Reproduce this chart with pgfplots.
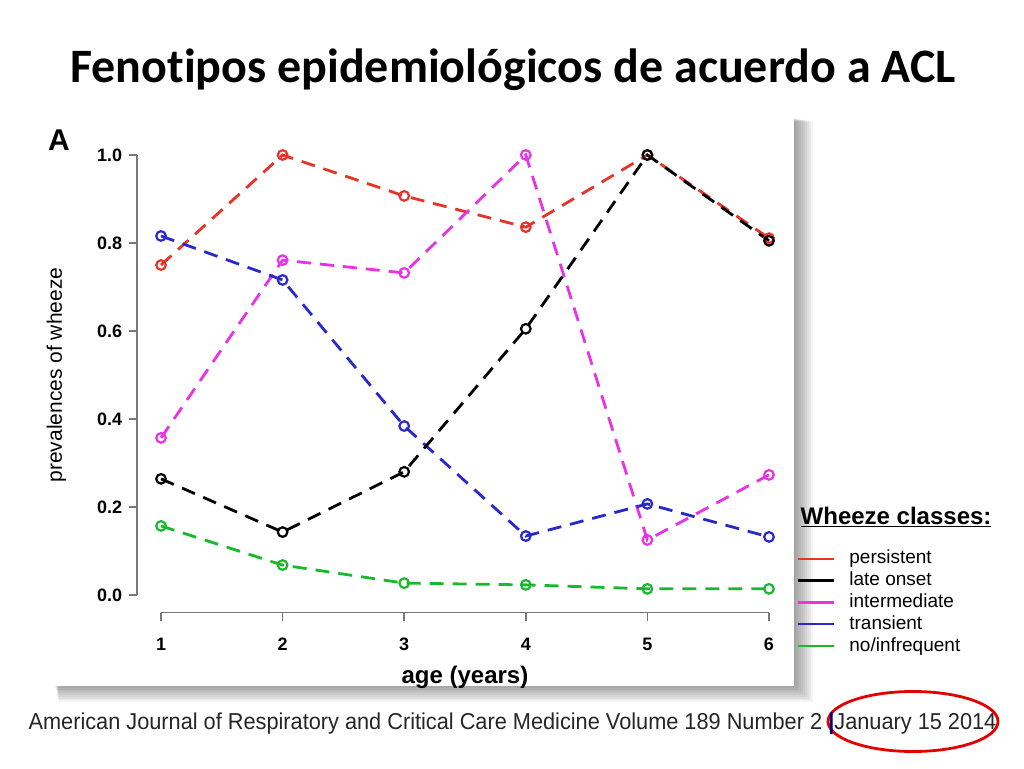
\documentclass[border=0pt]{standalone}
\usepackage{pgfplots}
\pgfplotsset{compat=1.18}
\usepackage{fontspec}
\setmainfont{Liberation Sans}
\newfontfamily\titlefont[Ligatures=NoCommon]{Carlito}
\definecolor{rred}{RGB}{232,52,40}
\definecolor{rmag}{RGB}{232,50,232}
\definecolor{rblue}{RGB}{40,40,205}
\definecolor{rgreen}{RGB}{25,185,45}
\definecolor{axgray}{RGB}{120,120,120}
\newcommand{\fs}[1]{\fontsize{#1}{1.2\dimexpr#1\relax}\selectfont}

\begin{document}
\begin{tikzpicture}[x=1pt,y=1pt]
% page, 1024 x 768 (1pt = 1px)
\path[fill=white] (0,0) rectangle (1024,768);

% title
\node[anchor=base, font=\titlefont\bfseries\fs{48pt}] at (513,685) {Fenotipos epidemiológicos de acuerdo a ACL};

% soft shadow behind the figure
\foreach \i in {0,...,9} {
  \fill[black, opacity=0.045] (55+\i*0.4,82-\i*1.8) rectangle (795+\i*2,650-\i*0.4);
}
\fill[white] (52,82) rectangle (794,650);

\begin{axis}[
    at={(136.7pt,155.4pt)}, anchor=south west,
    scale only axis,
    width=656.6pt, height=475.2pt,
    xmin=0.8, xmax=6.2, ymin=-0.04, ymax=1.04,
    clip=false,
    axis line style={draw=none},
    axis x line*=bottom, axis y line*=left,
    xtick={1,2,3,4,5,6},
    ytick={0,0.2,0.4,0.6,0.8,1.0},
    yticklabel style={/pgf/number format/fixed, /pgf/number format/fixed zerofill,
        /pgf/number format/precision=1, xshift=-3pt},
    /pgf/number format/assume math mode=true,
    tick align=outside,
    major tick length=8pt,
    tick style={axgray, line width=1.6pt},
    ticklabel style={font=\bfseries\fs{18pt}},
    xticklabel style={yshift=-14pt},
    xlabel={age (years)},
    xlabel style={font=\bfseries\fs{24pt}, yshift=-8pt},
    ylabel={prevalences of wheeze},
    ylabel style={font=\fs{21pt}, yshift=24pt},
    every axis plot/.append style={line width=2.8pt, dash pattern=on 14pt off 9pt,
        mark=o, mark size=4.8pt, mark options={solid, line width=2.2pt, fill=white}},
    legend image code/.code={\draw[#1, solid, line width=2.2pt] (0pt,0pt) -- (36pt,0pt);},
    legend style={at={(1.0056,0.135)}, anchor=north west, draw=none, fill=none,
        inner sep=0pt, row sep=1.9pt, font=\fs{19pt},
        nodes={inner sep=1pt, text height=14pt, text depth=4pt},
        /tikz/every odd column/.append style={column sep=13pt}},
    legend cell align=left,
]
% R-style detached axis lines
\draw[axgray, line width=1.6pt] (axis cs:0.8,0) -- (axis cs:0.8,1);
\draw[axgray, line width=1.6pt] (axis cs:1,-0.04) -- (axis cs:6,-0.04);

\addplot[rred, forget plot] coordinates {
(1,0.750)(2,1.000)(3,0.907)(4,0.836)(5,1.000)(6,0.811)
};
\addplot[rmag, forget plot] coordinates {
(1,0.357)(2,0.761)(3,0.732)(4,1.000)(5,0.125)(6,0.273)
};
\addplot[rblue, forget plot] coordinates {
(1,0.816)(2,0.716)(3,0.384)(4,0.134)(5,0.207)(6,0.132)
};
\addplot[rgreen, forget plot] coordinates {
(1,0.157)(2,0.068)(3,0.027)(4,0.023)(5,0.014)(6,0.014)
};
\addplot[black, forget plot] coordinates {
(1,0.264)(2,0.143)(3,0.280)(4,0.605)(5,1.000)(6,0.805)
};

\addlegendimage{rred}
\addlegendentry{persistent}
\addlegendimage{black}
\addlegendentry{late onset}
\addlegendimage{rmag}
\addlegendentry{intermediate}
\addlegendimage{rblue}
\addlegendentry{transient}
\addlegendimage{rgreen}
\addlegendentry{no/infrequent}

\node[anchor=west, font=\bfseries\fs{24pt}] at (axis cs:6.232,0.177) {\underline{Wheeze classes:}};
\node[font=\bfseries\fs{30pt}] at (axis cs:0.16,1.034) {A};
\end{axis}

% citation, with the date circled
\draw[red!90!black, line width=2.8pt] (913,46.5) ellipse [x radius=85, y radius=30];
\node[font=\fs{23pt}, text=black!85] at (512.5,44) {\scalebox{0.945}[1]{American Journal of Respiratory and Critical Care Medicine Volume 189 Number 2 {\color{blue!50!black}\bfseries|}January 15 2014}};
\end{tikzpicture}
\end{document}
